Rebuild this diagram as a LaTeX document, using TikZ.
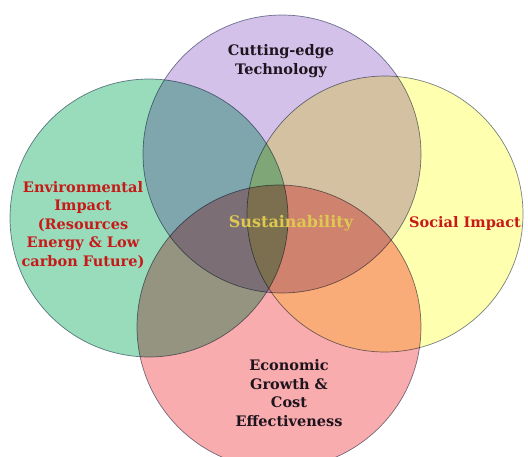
\documentclass[tikz,border=0pt]{standalone}
\usepackage{fontspec}
\setmainfont{DejaVu Serif}
\definecolor{envfill}{RGB}{152,220,188}
\definecolor{techfill}{RGB}{212,193,234}
\definecolor{socfill}{RGB}{255,255,176}
\definecolor{econfill}{RGB}{249,172,174}
\definecolor{vennline}{RGB}{120,130,150}
\definecolor{impactred}{RGB}{200,25,25}
\definecolor{darktext}{RGB}{30,20,30}
\definecolor{sustgold}{RGB}{222,200,80}
\begin{document}
\begin{tikzpicture}[x=1pt,y=-1pt]
  \tikzset{venn/.style={circle,draw=vennline,line width=0.7pt,inner sep=0pt},
    vlabel/.style={align=center,font=\bfseries\fontsize{14.5}{18.5}\selectfont}}
  \clip (0,0) rectangle (528,456);
  \begin{scope}[blend group=multiply]
    \node[venn,fill=envfill,minimum size=278pt] (env) at (149,218) {};
    \node[venn,fill=techfill,minimum size=278pt] (tech) at (282,154) {};
    \node[venn,fill=socfill,minimum size=276pt] (soc) at (385,214) {};
    \node[venn,fill=econfill,minimum size=284pt] (econ) at (279,327) {};
  \end{scope}
  \node[vlabel,text=darktext] (techlabel) at (281,61) {Cutting-edge\\Technology};
  \node[vlabel,text=impactred] (envlabel) at (83,225)
    {Environmental\\Impact\\(Resources\\Energy \& Low\\carbon Future)};
  \node[vlabel,text=impactred] (soclabel) at (465,223) {Social Impact};
  \node[vlabel,text=darktext] (econlabel) at (289,393)
    {Economic\\Growth \&\\Cost\\Effectiveness};
  \node[vlabel,text=sustgold,font=\bfseries\fontsize{16}{18.5}\selectfont] (sustlabel) at (291,223) {Sustainability};
\end{tikzpicture}
\end{document}
